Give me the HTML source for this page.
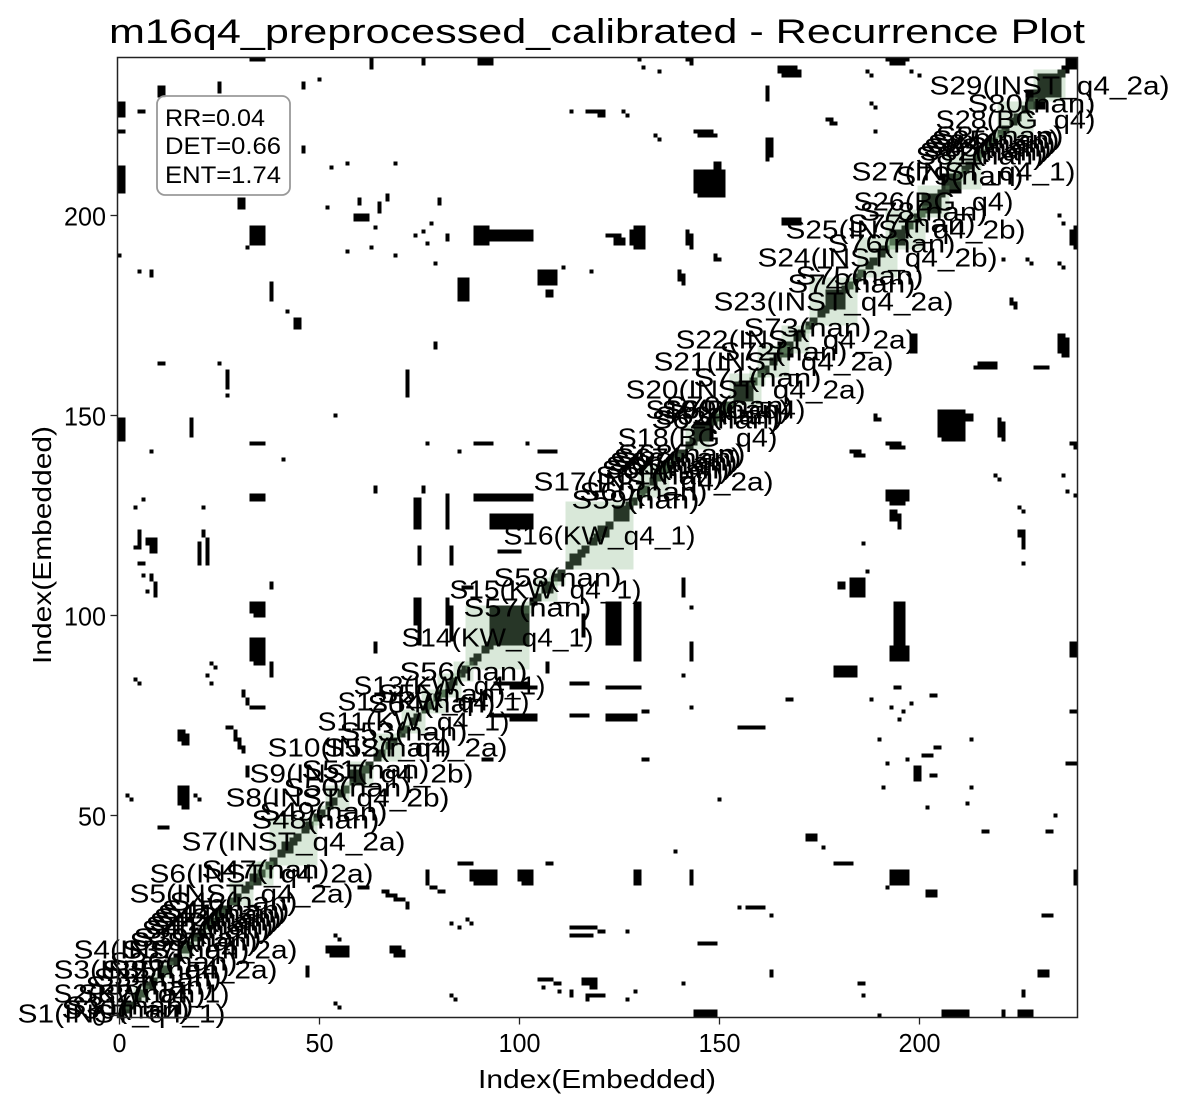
<!DOCTYPE html>
<html><head><meta charset="utf-8"><style>
html,body{margin:0;padding:0;background:#fff;}
svg{display:block;}
</style></head><body>
<svg id="chart" width="1190" height="1108" viewBox="0 0 1190 1108" xmlns="http://www.w3.org/2000/svg"></svg>
<script>
// ---- data ----
const N = 240;
const xTicks = [0, 50, 100, 150, 200];
const yTicks = [0, 50, 100, 150, 200];
const stats = ["RR=0.04", "DET=0.66", "ENT=1.74"];
// recurrence features [ix, iy, w, h] (mirrored for symmetry)
const blocks = [
[33,239,4,1],[63,237,1,3],[76,238,1,2],[90,238,4,2],[10,230,2,3],[25,231,1,3],[46,232,1,2],[50,234,1,1],
[5,226,2,1],[0,221,2,1],[0,206,2,7],[46,216,1,2],[53,212,1,1],[57,213,1,1],[69,213,1,1],[30,202,2,3],
[33,193,4,5],[32,192,1,1],[0,190,1,1],[52,202,1,1],[59,199,4,2],[60,203,1,2],[65,201,1,3],[67,204,1,2],
[80,203,1,2],[74,195,1,1],[76,196,1,1],[78,198,1,1],[82,194,1,2],[64,197,1,1],[57,191,1,1],[63,192,1,1],
[69,190,1,1],[77,193,1,1],[79,188,1,1],[89,193,4,5],[93,194,11,3],[113,226,1,1],[117,226,3,1],[5,186,1,1],
[8,185,1,2],[38,179,1,5],[42,176,1,1],[44,172,2,3],[85,179,3,6],[105,183,5,4],[107,180,2,2],[111,187,1,1],
[118,186,1,1],[79,167,1,2],[10,163,2,1],[25,163,1,1],[27,157,1,5],[27,155,1,1],[72,155,1,7],[0,145,2,5],
[18,145,1,5],[54,150,1,1],[33,143,4,1],[77,143,1,1],[89,143,5,1],[102,143,1,1],[105,141,5,1],[8,141,1,1],
[41,139,1,1],[85,141,1,1],[64,131,1,2],[33,129,4,2],[6,129,1,1],[4,127,1,1],[21,127,1,1],[5,120,1,2],
[21,120,1,2],[74,122,2,8],[82,122,1,9],[76,131,1,2],[89,129,15,2],[93,122,11,4],
[165,236,5,2],[130,239,1,1],[142,239,1,1],[192,239,1,1],[196,239,2,1],[131,237,1,1],[162,230,1,3],[187,236,1,1],
[198,236,1,1],[120,226,2,1],[126,226,1,1],[144,221,5,1],[134,220,1,1],[177,224,2,1],[188,228,1,1],[189,221,1,1],
[162,215,2,5],[144,206,5,6],[149,212,2,2],[122,195,4,1],[128,193,3,4],[142,193,1,4],[149,190,1,1],[140,184,1,3],
[235,200,1,1],[238,193,2,4],[227,189,1,1],[235,188,1,1],[223,178,1,2],[198,166,2,5],[235,166,2,5],[214,162,5,1],
[229,162,4,1],[205,145,7,7],[220,145,1,5],[189,149,1,2],[192,143,4,1],[183,141,3,1],[238,143,2,1],[219,135,1,1],
[236,135,1,1],[192,129,6,3],[193,124,2,3],[225,127,1,1],[225,120,1,2],
[33,101,4,3],[33,89,4,6],[38,107,1,2],[38,86,1,3],[8,109,1,2],[5,113,1,1],[7,106,1,1],[4,117,1,1],[7,118,1,2],
[20,113,1,6],[23,88,1,1],[22,85,1,1],[4,84,1,1],[31,80,1,2],[33,77,3,1],[27,72,1,1],[29,69,1,3],[30,67,2,1],
[15,69,2,3],[15,53,2,5],[19,55,1,1],[2,55,1,1],[10,47,2,1],[64,91,1,3],[74,98,2,7],[82,98,1,7],[95,116,6,1],
[107,86,1,3],[94,83,9,1],[93,75,8,1],[103,75,1,1],[113,83,5,1],[113,75,5,1],[85,38,3,1],[107,38,2,1],
[88,34,6,3],[100,34,3,3],[77,34,1,3],[78,32,2,1],[60,32,3,1],[66,31,1,1],[67,30,3,1],[72,28,1,1],[83,23,1,1],
[87,24,1,1],[113,22,7,1],[52,16,6,2],[54,20,1,1],[68,16,3,2],[47,11,1,2],[105,9,4,1],[116,8,4,2],[110,6,1,1],
[113,6,1,1],[117,5,3,1],[83,5,1,1],[54,3,1,1],[144,0,4,2],[225,0,4,2],[237,237,3,3]
];
// dark recurrence cores on the diagonal [start, end]
const cores = [[93,103],[106,109],[33,36],[58,62],[154,159],[165,169],[177,182],[193,197],[201,206],[206,211],
[227,232],[230,236],[144,149],[41,44],[113,116],[120,123],[124,128],[1,3],[5,7]];
// segments
const segNames = ["S1(INST_q4_1)","S30(nan)","S31(nan)","S2(KW_q4_1)","S32(nan)","S33(nan)","S3(INST_q4_2a)","S34(nan)","S35(nan)","S4(INST_q4_2a)","S36(nan)","S37(nan)","S38(nan)","S39(nan)","S40(nan)","S41(nan)","S42(nan)","S43(nan)","S44(nan)","S45(nan)","S46(nan)","S5(INST_q4_2a)","S6(INST_q4_2a)","S47(nan)","S7(INST_q4_2a)","S48(nan)","S49(nan)","S8(INST_q4_2b)","S50(nan)","S9(INST_q4_2b)","S51(nan)","S10(INST_q4_2a)","S52(nan)","S53(nan)","S11(KW_q4_1)","S54(nan)","S12(KW_q4_1)","S55(nan)","S13(KW_q4_1)","S56(nan)","S14(KW_q4_1)","S57(nan)","S15(KW_q4_1)","S58(nan)","S16(KW_q4_1)","S59(nan)","S60(nan)","S17(INST_q4_2a)","S61(nan)","S64(nan)","S65(nan)","S66(nan)","S67(nan)","S68(nan)","S18(BG_q4)","S62(nan)","S63(nan)","S19(BG_q4)","S69(nan)","S70(nan)","S20(INST_q4_2a)","S71(nan)","S21(INST_q4_2a)","S72(nan)","S22(INST_q4_2a)","S73(nan)","S23(INST_q4_2a)","S74(nan)","S75(nan)","S24(INST_q4_2b)","S76(nan)","S77(nan)","S25(INST_q4_2b)","S78(nan)","S26(BG_q4)","S79(nan)","S27(INST_q4_1)","S81(nan)","S82(nan)","S83(nan)","S84(nan)","S85(nan)","S86(nan)","S28(BG_q4)","S80(nan)","S29(INST_q4_2a)"];
const segStart = [0,1,2,4,5,7,10,9,11,15,13,16,18,19,21,22,23,24,25,26,28,28,33,35,38,48,50,52,56,58,61,64,66,70,71,77,76,80,80,84,87,101,104,108,112,128,130,130,134,136,137,138,139,140,142,148,149,150,151,152,153,158,160,165,166,171,173,182,184,185,192,197,192,200,200,209,207,214,215,216,217,218,219,220,227,229];
const segEnd = [2,3,4,8,7,9,14,11,13,19,15,18,20,21,23,24,25,26,27,28,30,34,39,39,50,51,53,58,59,64,63,71,69,73,77,80,82,82,86,89,103,104,110,112,129,131,133,138,137,138,139,140,141,142,148,151,152,154,153,154,161,162,168,168,173,174,185,185,187,195,195,200,202,203,208,212,216,217,218,219,220,221,222,229,230,237];

// ---- drawing ----
const svg = document.getElementById('chart');
const NS = 'http://www.w3.org/2000/svg';
const L = 117.5, T = 57.5, W = 960, H = 960;
const cw = W / N;
function sx(v){ return L + (v + 0.5) * cw; }
function sy(v){ return T + H - (v + 0.5) * cw; }
function el(tag, attrs, parent){ const e = document.createElementNS(NS, tag); for (const k in attrs) e.setAttribute(k, attrs[k]); (parent||svg).appendChild(e); return e; }

el('rect',{x:0,y:0,width:1190,height:1108,fill:'#fff'});
const gCells = el('g',{});


function cellRect(ix, iy, w, h){
  const r = el('rect',{x:sx(ix-0.5), y:sy(iy+h-0.5), width:w*cw, height:h*cw, fill:'#000'}, gCells);
  
  
}
blocks.forEach(b => { cellRect(b[0],b[1],b[2],b[3]); cellRect(b[1],b[0],b[3],b[2]); });
for (let i = 0; i < N; i++){ cellRect(i,i,1,1); if (i < N-1 && i % 3 !== 0){ cellRect(i,i+1,1,1); cellRect(i+1,i,1,1);} }
cores.forEach(c => { cellRect(c[0], c[0], c[1]-c[0], c[1]-c[0]); });

const gSeg = el('g',{});


for (let k = 0; k < segNames.length; k++){
  const s = segStart[k], e = segEnd[k];
  const r = el('rect',{x:sx(s-0.5), y:sy(e-0.5), width:(e-s)*cw, height:(e-s)*cw, fill:'rgb(128,178,128)', 'fill-opacity':0.3}, gSeg);
  
  
}
const gLab = el('g',{});


for (let k = 0; k < segNames.length; k++){
  const m = (segStart[k] + segEnd[k]) / 2;
  const t = el('text',{x:sx(m-0.5), y:sy(m-0.5)+9, 'text-anchor':'middle', 'font-family':'"Liberation Sans", sans-serif', 'font-size':26, textLength:segNames[k].length*16, lengthAdjust:'spacingAndGlyphs', fill:'#000'}, gLab);
  t.textContent = segNames[k];
  
  
}

// axes frame
const frame = el('rect',{x:L, y:T, width:W, height:H, fill:'none', stroke:'#222', 'stroke-width':1.5});



xTicks.forEach(v => {
  el('line',{x1:sx(v), x2:sx(v), y1:T+H, y2:T+H+7, stroke:'#222','stroke-width':1.3});
  const t = el('text',{x:sx(v), y:1052, 'text-anchor':'middle','font-family':'"Liberation Sans", sans-serif','font-size':26, textLength:String(v).length*14, lengthAdjust:'spacingAndGlyphs'});
  t.textContent = v;
  
  
});
yTicks.forEach(v => {
  el('line',{x1:L-7, x2:L, y1:sy(v), y2:sy(v), stroke:'#222','stroke-width':1.3});
  const t = el('text',{x:106, y:sy(v)+10, 'text-anchor':'end','font-family':'"Liberation Sans", sans-serif','font-size':26, textLength:String(v).length*14, lengthAdjust:'spacingAndGlyphs'});
  t.textContent = v;
  
  
});
</script>
<svg style="position:absolute;left:0;top:0" width="1190" height="1108" xmlns="http://www.w3.org/2000/svg">
<text x="597" y="43" text-anchor="middle" font-family="Liberation Sans, sans-serif" font-size="34" textLength="976" lengthAdjust="spacingAndGlyphs">m16q4_preprocessed_calibrated - Recurrence Plot</text>
<text x="597" y="1088" text-anchor="middle" font-family="Liberation Sans, 'Noto Sans CJK SC', sans-serif" font-size="26" textLength="238" lengthAdjust="spacingAndGlyphs">Index(Embedded)</text>
<text transform="translate(51,545) rotate(-90)" text-anchor="middle" font-family="Liberation Sans, 'Noto Sans CJK SC', sans-serif" font-size="26" textLength="238" lengthAdjust="spacingAndGlyphs">Index(Embedded)</text>
<g>
<rect x="157" y="96" width="133" height="99" rx="8" fill="#fff" fill-opacity="0.8" stroke="#999" stroke-width="1.8"/>
<text x="165" y="126" font-family="Liberation Sans, sans-serif" font-size="24" textLength="100" lengthAdjust="spacingAndGlyphs">RR=0.04</text>
<text x="165" y="154" font-family="Liberation Sans, sans-serif" font-size="24" textLength="116" lengthAdjust="spacingAndGlyphs">DET=0.66</text>
<text x="165" y="183" font-family="Liberation Sans, sans-serif" font-size="24" textLength="116" lengthAdjust="spacingAndGlyphs">ENT=1.74</text>
</g>
</svg>
</body></html>
